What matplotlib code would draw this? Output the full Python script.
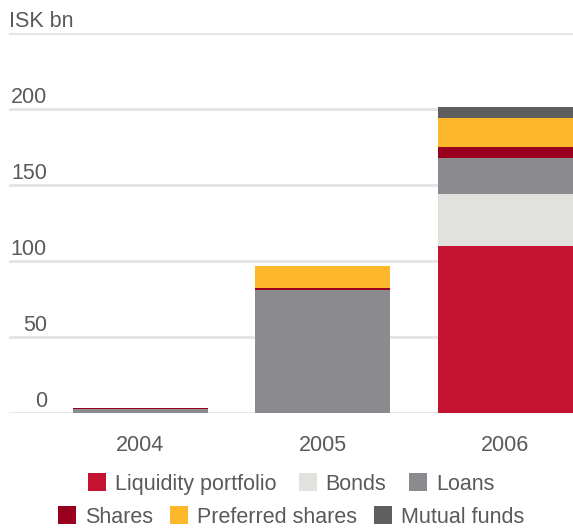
import numpy as np
import matplotlib.pyplot as plt
from matplotlib.patches import Patch
import matplotlib.transforms as mtransforms

plt.rcParams['font.family'] = ['Liberation Sans', 'DejaVu Sans']

# ISK bn per year, stacked bottom to top
years = ['2004', '2005', '2006']
liquidity = [0.0, 0.0, 110.0]
bonds = [0.0, 0.0, 34.0]
loans = [2.5, 81.0, 24.0]
shares = [0.7, 1.5, 7.0]
preferred = [0.0, 14.0, 19.0]
mutual = [0.0, 0.0, 7.0]

series = [
    ('Liquidity portfolio', liquidity, '#c41230'),
    ('Bonds', bonds, '#e1e1dd'),
    ('Loans', loans, '#8b8a8f'),
    ('Shares', shares, '#98001e'),
    ('Preferred shares', preferred, '#fcb72b'),
    ('Mutual funds', mutual, '#5f5f61'),
]

yticks = [0, 50, 100, 150, 200]
text_color = '#5a5a5a'
grid_color = '#e4e4e4'
fs = 15.5

fig = plt.figure(figsize=(5.73, 5.28), dpi=100)
ax = fig.add_axes([9 / 573, 115 / 528, 1 - 9 / 573, 380 / 528])

x = np.arange(len(years))
bottom = np.zeros(len(years))
for name, vals, color in series:
    vals = np.array(vals)
    ax.bar(x, vals, width=0.74, bottom=bottom, color=color, zorder=2, linewidth=0)
    bottom += vals

ax.set_xlim(-0.72, 2.37)
ax.set_ylim(0, 250)

# horizontal rules, labels sit on top of each one
for v in yticks + [250]:
    ax.axhline(v, color=grid_color, lw=2, zorder=1)

ax.set_yticks([])
for s in ax.spines.values():
    s.set_visible(False)

trans = mtransforms.blended_transform_factory(fig.transFigure, ax.transData)
off = mtransforms.ScaledTranslation(0, 6 / 100, fig.dpi_scale_trans)
for v in yticks:
    ax.text(47 / 573, v, str(v), transform=trans + off, ha='right', va='baseline',
            fontsize=fs, color=text_color)
ax.text(9 / 573, 250, 'ISK bn', transform=trans + off, ha='left', va='baseline',
        fontsize=fs, color=text_color)

ax.set_xticks(x)
ax.set_xticklabels(years, fontsize=fs, color=text_color)
ax.tick_params(axis='x', length=0, pad=16)

handles = [Patch(facecolor=c, edgecolor='none', label=n) for n, _, c in series]
leg_kw = dict(loc='center', ncol=3, frameon=False, fontsize=fs,
              handlelength=0.85, handleheight=0.85, handletextpad=0.4,
              labelcolor=text_color, borderpad=0)
fig.legend(handles=handles[:3], bbox_to_anchor=(291 / 573, 1 - 484 / 528),
           columnspacing=1.05, **leg_kw)
fig.legend(handles=handles[3:], bbox_to_anchor=(291 / 573, 1 - 517 / 528),
           columnspacing=0.8, **leg_kw)

fig.savefig('out.png', dpi=100)
